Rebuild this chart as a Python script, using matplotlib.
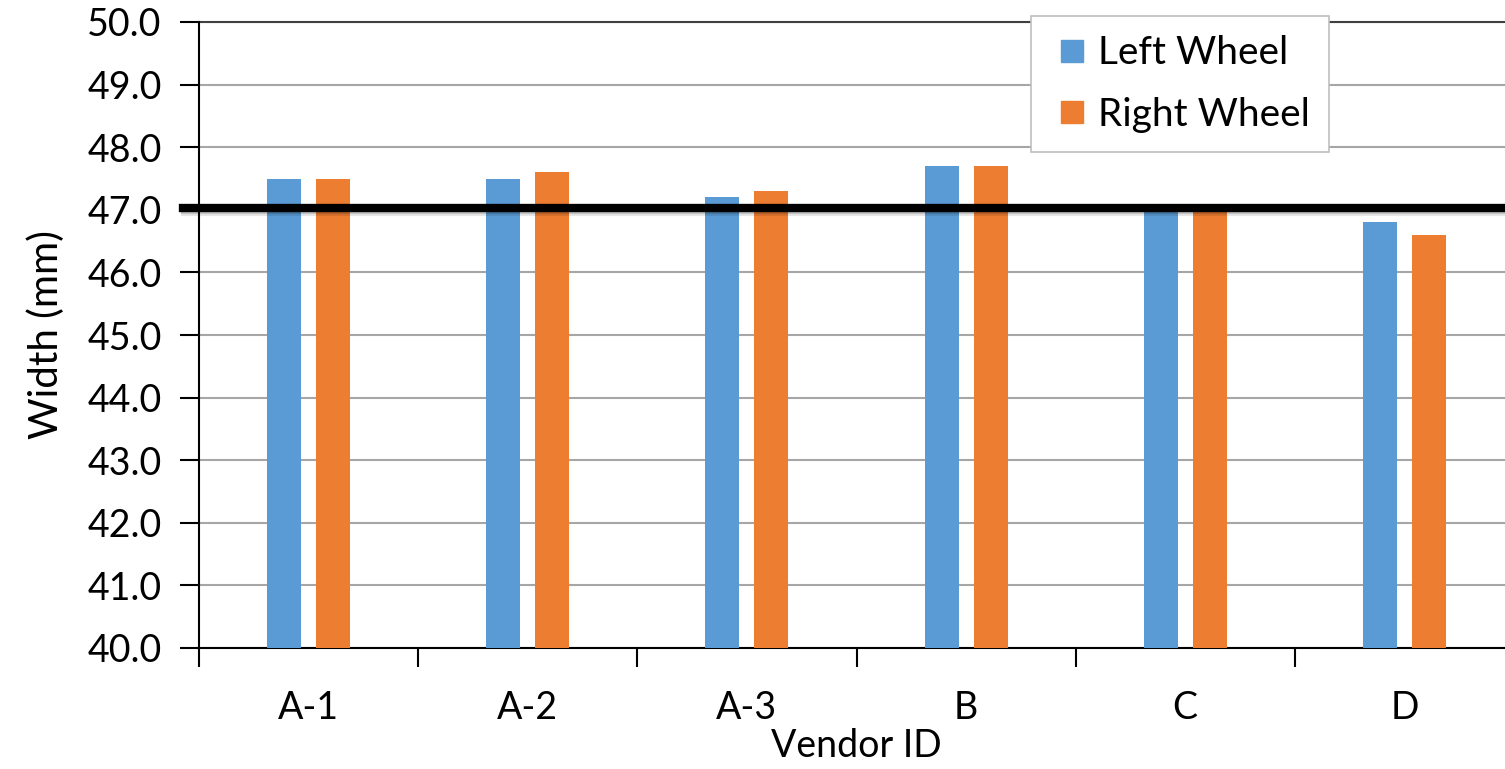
import matplotlib.pyplot as plt
from matplotlib.lines import Line2D
import numpy as np

# wheel width by vendor
vendors = ["A-1", "A-2", "A-3", "B", "C", "D"]
left_wheel = [47.5, 47.5, 47.2, 47.7, 47.0, 46.8]
right_wheel = [47.5, 47.6, 47.3, 47.7, 47.0, 46.6]
spec_width = 47.03
y_ticks = np.arange(40.0, 50.01, 1.0)

blue = "#5b9bd5"
orange = "#ed7d31"

plt.rcParams["font.family"] = ["Lato", "DejaVu Sans"]

fig = plt.figure(figsize=(15.05, 7.69), dpi=100)
# the plot area runs past the right edge of the figure
ax = fig.add_axes([199 / 1505, 1 - 648 / 769, 1315 / 1505, 626 / 769])

x = np.arange(len(vendors))
width = 0.155
offset = 0.112
ax.bar(x - offset, left_wheel, width, color=blue, zorder=3)
ax.bar(x + offset, right_wheel, width, color=orange, zorder=3)

# spec line with a soft drop shadow underneath
for dy, alpha in [(0.10, 0.10), (0.07, 0.15), (0.04, 0.25)]:
    ax.axhline(spec_width - dy, xmin=-0.012, color="black", alpha=alpha, lw=3,
               zorder=4, clip_on=False)
ax.axhline(spec_width, xmin=-0.012, color="black", lw=6, zorder=5, clip_on=False)

ax.set_ylim(40, 50)
ax.set_xlim(-0.5, len(vendors) - 0.5)
ax.set_yticks(y_ticks)
ax.set_yticklabels(["%.1f" % v for v in y_ticks])
ax.yaxis.grid(True, color="#a6a6a6", lw=1.5, zorder=0)

ax.set_xticks(x)
ax.set_xticklabels(vendors)
ax.set_xticks(np.arange(-0.5, len(vendors)), minor=True)
ax.tick_params(axis="x", which="major", length=0, pad=30, labelsize=27)
ax.tick_params(axis="x", which="minor", length=14, width=1.5, direction="out")
ax.tick_params(axis="y", length=14, width=1.5, direction="out", labelsize=27, pad=13)

for side in ["top", "right"]:
    ax.spines[side].set_visible(False)
ax.spines["left"].set_linewidth(1.5)
ax.spines["bottom"].set_linewidth(1.5)
ax.plot([0, 1], [1, 1], transform=ax.transAxes, color="#404040", lw=1.5, clip_on=False)

ax.set_xlabel("Vendor ID", fontsize=27, labelpad=2)
ax.set_ylabel("Width (mm)", fontsize=29, labelpad=16)

handles = [Line2D([], [], ls="none", marker="s", markersize=16, color=c) for c in (blue, orange)]
leg = ax.legend(handles, ["Left Wheel", "Right Wheel"], loc="upper left",
                bbox_to_anchor=(832 / 1315, 1.0096), borderaxespad=0, fontsize=28,
                handlelength=1.1, handletextpad=0.12, labelspacing=0.65,
                borderpad=0.5, fancybox=False, framealpha=1)
leg.get_frame().set_edgecolor("#bfbfbf")
leg.get_frame().set_linewidth(1.2)

fig.savefig("out.png", dpi=100)
